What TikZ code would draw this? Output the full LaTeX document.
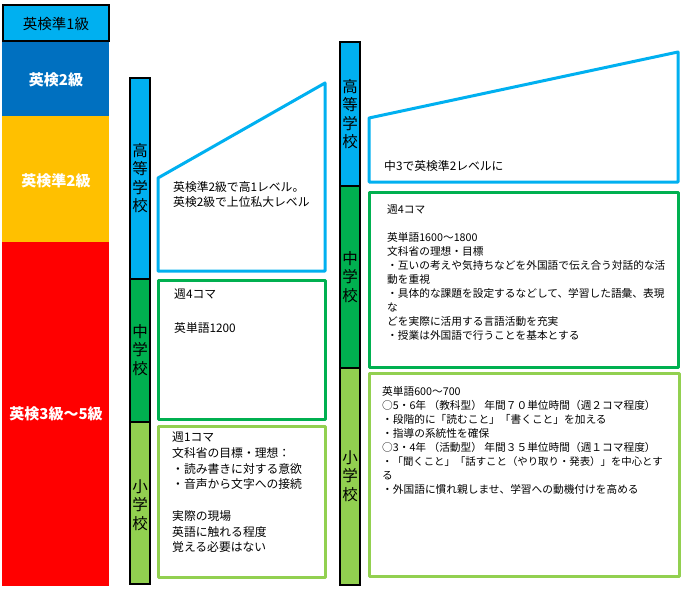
\documentclass[tikz,border=0pt]{standalone}
\usepackage{fontspec}
\setmainfont{Noto Sans CJK JP}
\definecolor{lblue}{HTML}{00B0F0}
\definecolor{dblue}{HTML}{0070C0}
\definecolor{yel}{HTML}{FFC000}
\definecolor{rd}{HTML}{FF0000}
\definecolor{grn}{HTML}{00B050}
\definecolor{lgrn}{HTML}{92D050}
\tikzset{
  barseg/.style={draw=black, line width=1.3pt},
  frame/.style={line width=3pt, line join=round, fill=white},
  txt/.style={anchor=north west, inner sep=0pt, align=left, text=black},
  midtxt/.style={txt, font=\fontsize{11.8}{15.7}\selectfont},
  rtxt/.style={txt, font=\fontsize{10.7}{14}\selectfont},
  vlab/.style={align=center, inner sep=0pt, font=\fontsize{15.5}{18.5}\selectfont},
  lvl/.style={text=white, font=\fontsize{15}{18}\selectfont\bfseries},
}
\begin{document}
\begin{tikzpicture}[x=1pt,y=-1pt]
\useasboundingbox[fill=white] (0,0) rectangle (685,594);

% left column: Eiken levels
\fill[dblue] (2,41) rectangle (109,116);
\fill[yel] (2,116) rectangle (109,242);
\fill[rd] (2,242) rectangle (109,586);
\draw[fill=lblue, line width=1.3pt] (3,5) rectangle (109,41);
\node[font=\fontsize{14.5}{17}\selectfont] (k1) at (56,24) {英検準1級};
\node[lvl] (k2) at (56,80) {英検2級};
\node[lvl] (kp2) at (56,181) {英検準2級};
\node[lvl] (k35) at (56,414) {英検3級～5級};

% middle bar
\path[barseg, fill=lblue] (130,78) rectangle (150,279);
\path[barseg, fill=grn] (130,279) rectangle (150,422);
\path[barseg, fill=lgrn] (130,422) rectangle (150,584);
\node[vlab] (mh) at (140,178) {高\\等\\学\\校};
\node[vlab] (mm) at (140,350) {中\\学\\校};
\node[vlab] (me) at (140,505) {小\\学\\校};

% middle boxes
\draw[frame, draw=lblue] (158,178) -- (325,83) -- (325,271) -- (158,271) -- cycle;
\draw[frame, draw=grn] (158,280) rectangle (325,419);
\draw[frame, draw=lgrn] (158,426) rectangle (325,577);
\node[midtxt] (mht) at (173,181) {英検準2級で高1レベル。\\英検2級で上位私大レベル};
\node[midtxt] (mmt) at (174,289) {週4コマ\\[18pt]英単語1200};
\node[midtxt] (met) at (172,432) {週1コマ\\文科省の目標・理想：\\・読み書きに対する意欲\\・音声から文字への接続\\[15.7pt]実際の現場\\英語に触れる程度\\覚える必要はない};

% right bar
\path[barseg, fill=lblue] (340,42) rectangle (360,186);
\path[barseg, fill=grn] (340,186) rectangle (360,368);
\path[barseg, fill=lgrn] (340,368) rectangle (360,585);
\node[vlab] (rh) at (350,114) {高\\等\\学\\校};
\node[vlab] (rm) at (350,277) {中\\学\\校};
\node[vlab] (re) at (350,476) {小\\学\\校};

% right boxes
\draw[frame, draw=lblue] (369,118) -- (678,52) -- (678,182) -- (369,182) -- cycle;
\draw[frame, draw=grn] (369,192) rectangle (678,367);
\draw[frame, draw=lgrn] (369,373) rectangle (679,576);
\node[txt, font=\fontsize{11.8}{15}\selectfont] (rht) at (384,160) {中3で英検準2レベルに};
\node[rtxt] (rmt) at (387,205) {週4コマ\\[14pt]英単語1600～1800\\文科省の理想・目標\\・互いの考えや気持ちなどを外国語で伝え合う対話的な活\\動を重視\\・具体的な課題を設定するなどして、学習した語彙、表現\\な\\どを実際に活用する言語活動を充実\\・授業は外国語で行うことを基本とする};
\node[rtxt] (ret) at (382,386) {英単語600～700\\○5・6年 （教科型） 年間７０単位時間（週２コマ程度）\\・段階的に「読むこと」「書くこと」を加える\\・指導の系統性を確保\\○3・4年 （活動型） 年間３５単位時間（週１コマ程度）\\{\fontsize{10.4}{14}\selectfont ・「聞くこと」「話すこと（やり取り・発表）」を中心とす}\\る\\・外国語に慣れ親しませ、学習への動機付けを高める};
\end{tikzpicture}
\end{document}
